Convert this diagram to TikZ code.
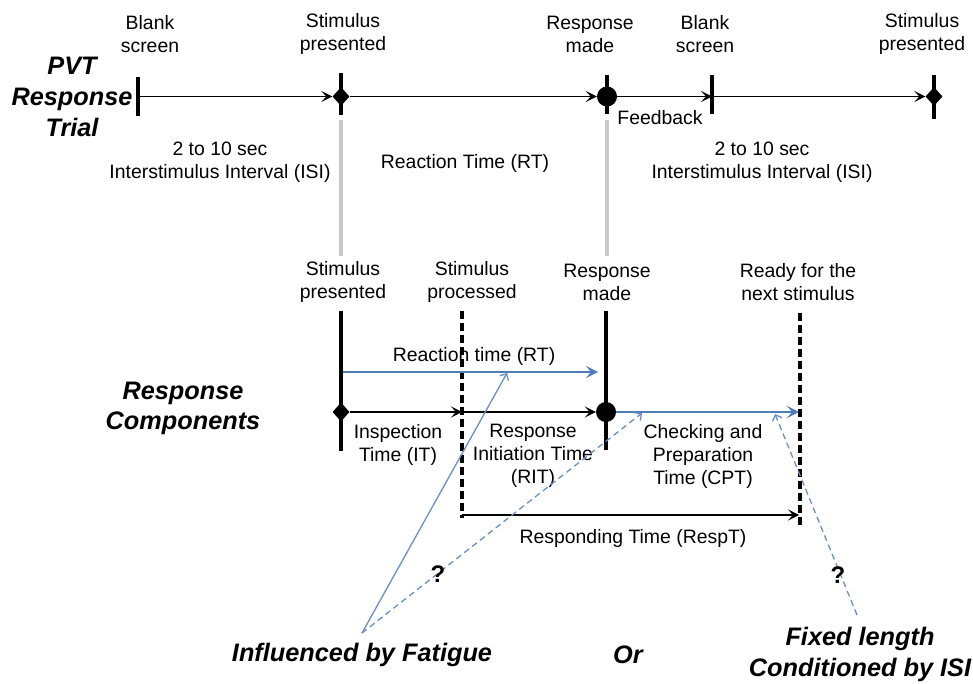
\documentclass[tikz,border=0pt]{standalone}
\usepackage{fontspec}
\setmainfont{Liberation Sans}
\usetikzlibrary{arrows.meta,shapes.geometric}
\definecolor{myblue}{RGB}{79,125,186}
\definecolor{mygray}{RGB}{200,200,200}
\tikzset{
  lbl/.style={align=center,inner sep=0pt,font=\fontsize{19.4}{23}\selectfont},
  hdr/.style={align=center,inner sep=0pt,font=\fontsize{25.3}{31}\selectfont\bfseries\itshape},
  qm/.style={inner sep=0pt,font=\fontsize{24}{26}\selectfont\bfseries},
  ticksty/.style={line width=4.3pt},
  dashsty/.style={line width=4.3pt,dash pattern=on 8pt off 4pt},
  graysty/.style={line width=4pt,draw=mygray},
  arr/.style={-{Stealth[length=11pt,width=11pt,inset=5pt]},line width=1.6pt},
  barr/.style={draw=myblue,line width=1.6pt,-{Stealth[length=12pt,width=12pt,inset=5pt,myblue]}},
  farr/.style={draw=myblue!85!white,line width=1.3pt,-{Straight Barb[length=5pt,width=10pt]}},
  fdarr/.style={farr,dash pattern=on 6pt off 4pt},
  dia/.style={diamond,fill=black,inner sep=0pt,minimum width=17pt,minimum height=19pt},
  dot/.style={circle,fill=black,inner sep=0pt,minimum size=20pt}
}
\begin{document}
\begin{tikzpicture}[x=1pt,y=-1pt]
\useasboundingbox (0,0) rectangle (973,684);
% ---------- top timeline ----------
\coordinate (a0) at (138,96.5);
\node[dia] (d1) at (341,96.5) {};
\node[dot] (c1) at (607,96.5) {};
\coordinate (a2) at (712,96.5);
\node[dia] (d2) at (934,96.5) {};
\draw[ticksty] (a0) ++(0,-19) -- ++(0,39);
\draw[ticksty] (d1) ++(0,-23.5) -- ++(0,42);
\draw[ticksty] (c1) ++(0,-21.5) -- ++(0,39);
\draw[ticksty] (a2) ++(0,-21.5) -- ++(0,39);
\draw[ticksty] (d2) ++(0,-21.5) -- ++(0,44);
\draw[arr] (a0) -- (d1.west);
\draw[arr] (d1.east) -- (c1.west);
\draw[arr] (c1.east) -- (a2);
\draw[arr] (a2) -- (d2.west);
\draw[graysty] (341,120) -- (341,256);
\draw[graysty] (607,120) -- (607,256);
% labels top
\node[hdr] (pvt) at (72,97) {PVT\\Response\\Trial};
\node[lbl] (l1) at (150,34) {Blank\\screen};
\node[lbl] (l2) at (343,34) {Stimulus\\presented};
\node[lbl] (l3) at (590,34) {Response\\made};
\node[lbl] (l4) at (705,34) {Blank\\screen};
\node[lbl] (l5) at (922,34) {Stimulus\\presented};
\node[lbl] (fb) at (660,118) {Feedback};
\node[lbl] (isi1) at (220,162) {2 to 10 sec\\Interstimulus Interval (ISI)};
\node[lbl] (rt) at (465,163) {Reaction Time (RT)};
\node[lbl] (isi2) at (762,162) {2 to 10 sec\\Interstimulus Interval (ISI)};
% ---------- lower components ----------
\node[lbl] (s1) at (343,282) {Stimulus\\presented};
\node[lbl] (s2) at (472,282) {Stimulus\\processed};
\node[lbl] (s3) at (607,282) {Response\\made};
\node[lbl] (s4) at (798,282) {Ready for the\\next stimulus};
\draw[ticksty] (341,311) -- (341,451);
\draw[dashsty] (462,311) -- (462,518);
\draw[ticksty] (606,311) -- (606,450);
\draw[dashsty] (800,313) -- (800,528);
\node[dia] (d3) at (341,412) {};
\node[dot] (c3) at (606,412) {};
\coordinate (p1) at (462,412);
\coordinate (p2) at (799,412);
\coordinate (rt0) at (343,372);
\coordinate (rt1) at (598,372);
\coordinate (rs0) at (462,515);
\coordinate (rs1) at (799,515);
\draw[barr] (rt0) -- (rt1);
\draw[arr] (d3.east) -- (p1);
\draw[arr] (p1) -- (c3.west);
\draw[barr] (c3.east) -- (p2);
\draw[arr] (rs0) -- (rs1);
\node[lbl] (rtl) at (474,356) {Reaction time (RT)};
\node[hdr,font=\fontsize{25.3}{30}\selectfont\bfseries\itshape] (rc) at (183,408) {Response\\Components};
\node[lbl] (it) at (398,445) {Inspection\\Time (IT)};
\node[lbl] (rit) at (533,456) {Response\\Initiation Time\\(RIT)};
\node[lbl] (cpt) at (703,456) {Checking and\\Preparation\\Time (CPT)};
\node[lbl] (resp) at (633,538) {Responding Time (RespT)};
% ---------- influences ----------
\coordinate (f0) at (362,633);
\coordinate (g1) at (507,373);
\coordinate (g2) at (642,413);
\coordinate (f1) at (857,615);
\coordinate (g3) at (775,414);
\draw[farr] (f0) -- (g1);
\draw[fdarr] (f0) -- (g2);
\draw[fdarr] (f1) -- (g3);
\node[qm] (q1) at (438,574) {?};
\node[qm] (q2) at (838,575) {?};
\node[hdr] (inf) at (362,655) {Influenced by Fatigue};
\node[hdr] (or) at (628,655) {Or};
\node[hdr] (fix) at (860,654) {Fixed length\\Conditioned by ISI};
\end{tikzpicture}
\end{document}
